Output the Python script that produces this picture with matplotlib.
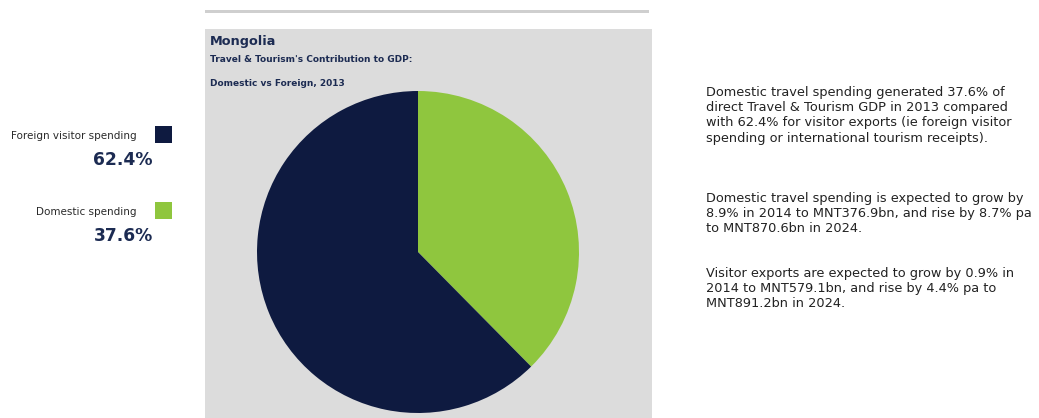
import matplotlib
matplotlib.use("Agg")
import matplotlib.pyplot as plt
from matplotlib.patches import Rectangle

# data
labels = ["Domestic spending", "Foreign visitor spending"]
shares = [37.6, 62.4]
colors = ["#8fc63e", "#0e1a40"]

title = "Mongolia"
subtitle1 = "Travel & Tourism's Contribution to GDP:"
subtitle2 = "Domestic vs Foreign, 2013"

paragraphs = [
    "Domestic travel spending generated 37.6% of\ndirect Travel & Tourism GDP in 2013 compared\nwith 62.4% for visitor exports (ie foreign visitor\nspending or international tourism receipts).",
    "Domestic travel spending is expected to grow by\n8.9% in 2014 to MNT376.9bn, and rise by 8.7% pa\nto MNT870.6bn in 2024.",
    "Visitor exports are expected to grow by 0.9% in\n2014 to MNT579.1bn, and rise by 4.4% pa to\nMNT891.2bn in 2024.",
]
para_y = [86, 192, 267]

plt.rcParams["font.family"] = ["DejaVu Sans"]

W, H = 1039, 418
fig = plt.figure(figsize=(W / 100, H / 100), dpi=100)
fig.patch.set_facecolor("white")


def fx(x):
    return x / W


def fy(y):
    return 1 - y / H


# grey panel and top rule
fig.patches.append(Rectangle((fx(205), 0), fx(652) - fx(205), fy(29), transform=fig.transFigure,
                             facecolor="#dcdcdc", edgecolor="none", zorder=-2))
fig.patches.append(Rectangle((fx(205), fy(13)), fx(649) - fx(205), 3 / H, transform=fig.transFigure,
                             facecolor="#cfcfcf", edgecolor="none", zorder=-2))

# pie
cx, cy, r = 418, 252, 161
ax = fig.add_axes([fx(cx - r), 1 - (cy + r) / H, 2 * r / W, 2 * r / H])
ax.patch.set_alpha(0)
ax.pie(shares, colors=colors, startangle=90, counterclock=False, radius=1,
       wedgeprops=dict(linewidth=0))
ax.set_xlim(-1, 1)
ax.set_ylim(-1, 1)
ax.axis("off")

# titles
fig.text(fx(210), fy(42), title, fontsize=9.3, fontweight="bold", color="#1c2b52", va="center")
fig.text(fx(210), fy(60), subtitle1, fontsize=6.5, fontweight="bold", color="#1c2b52", va="center")
fig.text(fx(210), fy(84), subtitle2, fontsize=6.5, fontweight="bold", color="#1c2b52", va="center")

# left legend
legend_y = [136, 212]
for lab, val, col, ly in zip(labels[::-1], shares[::-1], colors[::-1], legend_y):
    fig.text(fx(137), fy(ly), lab, fontsize=7.5, color="#2a2a2a", ha="right", va="center")
    fig.patches.append(Rectangle((fx(155), fy(ly + 7)), 17 / W, 17 / H, transform=fig.transFigure,
                                 facecolor=col, edgecolor="none"))
    fig.text(fx(153), fy(ly + 24), f"{val:.1f}%", fontsize=12.3, fontweight="bold",
             color="#1c2b52", ha="right", va="center")

# right text
for txt, py in zip(paragraphs, para_y):
    fig.text(fx(706), fy(py), txt, fontsize=9.3, color="#222222", va="top", linespacing=1.22)

fig.savefig("out.png", dpi=100)
